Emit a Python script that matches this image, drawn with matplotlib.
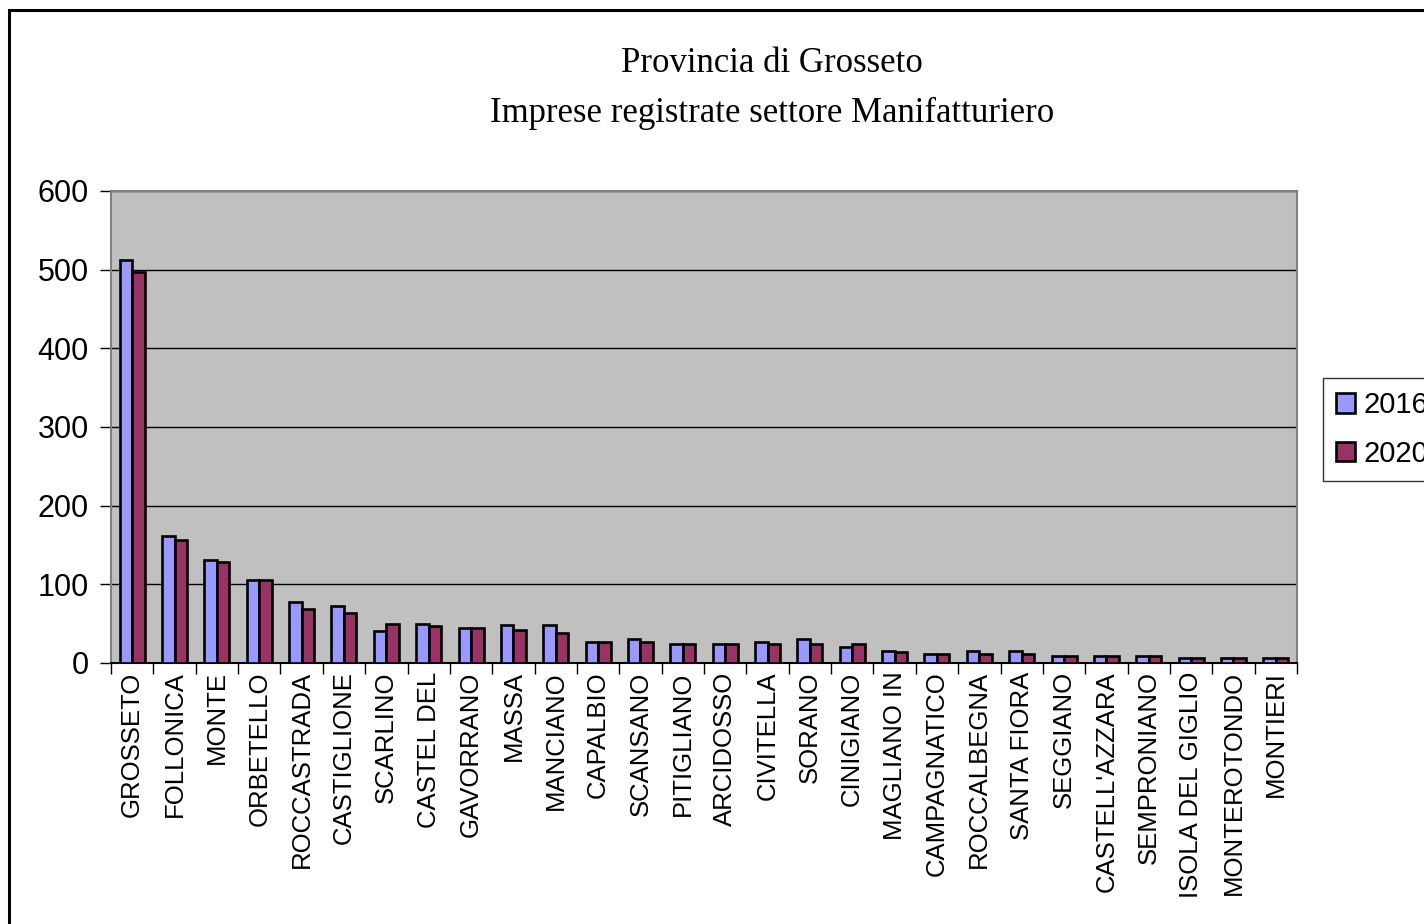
import matplotlib.pyplot as plt
from matplotlib.patches import Rectangle
import numpy as np

# comuni della provincia (etichette troncate come nell'originale)
comuni = ["GROSSETO", "FOLLONICA", "MONTE", "ORBETELLO", "ROCCASTRADA",
          "CASTIGLIONE", "SCARLINO", "CASTEL DEL", "GAVORRANO", "MASSA",
          "MANCIANO", "CAPALBIO", "SCANSANO", "PITIGLIANO", "ARCIDOSSO",
          "CIVITELLA", "SORANO", "CINIGIANO", "MAGLIANO IN", "CAMPAGNATICO",
          "ROCCALBEGNA", "SANTA FIORA", "SEGGIANO", "CASTELL'AZZARA",
          "SEMPRONIANO", "ISOLA DEL GIGLIO", "MONTEROTONDO", "MONTIERI"]
imprese_2016 = [512, 162, 131, 105, 78, 72, 41, 50, 45, 48,
                48, 27, 30, 24, 24, 27, 30, 20, 15, 12,
                15, 15, 9, 9, 9, 6, 6, 6]
imprese_2020 = [497, 156, 129, 105, 69, 63, 50, 47, 45, 42,
                38, 27, 27, 24, 24, 24, 24, 24, 14, 12,
                12, 12, 9, 9, 9, 6, 6, 6]
anni = ["2016", "2020"]

fig = plt.figure(figsize=(14.24, 9.24), dpi=100)
ax = fig.add_axes([111/1424, 1 - 663/924, (1297 - 111)/1424, (663 - 191)/924])

# cornice esterna del grafico
fig.patches.append(Rectangle((9/1424, -0.2), 1.2, 1.2 - 10/924,
                             transform=fig.transFigure, fill=False,
                             edgecolor='black', linewidth=2.2))

x = np.arange(len(comuni))
w = 0.295
ax.set_facecolor('#C0C0C0')
ax.bar(x - w/2, imprese_2016, w, color='#9999FF', edgecolor='black',
       linewidth=1.9, label=anni[0], zorder=3)
ax.bar(x + w/2, imprese_2020, w, color='#993366', edgecolor='black',
       linewidth=1.9, label=anni[1], zorder=3)

ax.set_xlim(-0.5, len(comuni) - 0.5)
ax.set_ylim(0, 600)
ax.set_yticks(range(0, 601, 100))
ax.yaxis.grid(True, color='black', linewidth=1.0, zorder=1)

ax.set_xticks(x)
ax.set_xticklabels(comuni, rotation=90, fontsize=18.5, family='Liberation Sans')
ax.tick_params(axis='x', length=0, pad=6)
ax.set_xticks(np.arange(-0.5, len(comuni)), minor=True)
ax.tick_params(axis='x', which='minor', length=8, width=1, color='black')
ax.tick_params(axis='y', labelsize=22, length=8, width=1, pad=8)
for t in ax.get_yticklabels():
    t.set_family('Liberation Sans')

for s in ax.spines.values():
    s.set_color('#808080')
    s.set_linewidth(1.5)
ax.spines['bottom'].set_color('black')

fig.text(772/1424, 1 - 64/924, "Provincia di Grosseto", ha='center',
         va='center', fontsize=25, family='Liberation Serif')
fig.text(772/1424, 1 - 113/924, "Imprese registrate settore Manifatturiero",
         ha='center', va='center', fontsize=25, family='Liberation Serif')

# la legenda esce dal bordo destro come nell'originale
leg = ax.legend(loc='upper left', bbox_to_anchor=(1323/1424, 1 - 378/924),
                bbox_transform=fig.transFigure, frameon=True, fancybox=False,
                prop={'family': 'Liberation Sans', 'size': 21},
                handlelength=0.65, handleheight=0.65, handletextpad=0.3,
                labelspacing=0.7, borderpad=0.45, borderaxespad=0)
leg.get_frame().set_edgecolor('black')
leg.get_frame().set_linewidth(1.0)

fig.savefig("out.png", dpi=100)
